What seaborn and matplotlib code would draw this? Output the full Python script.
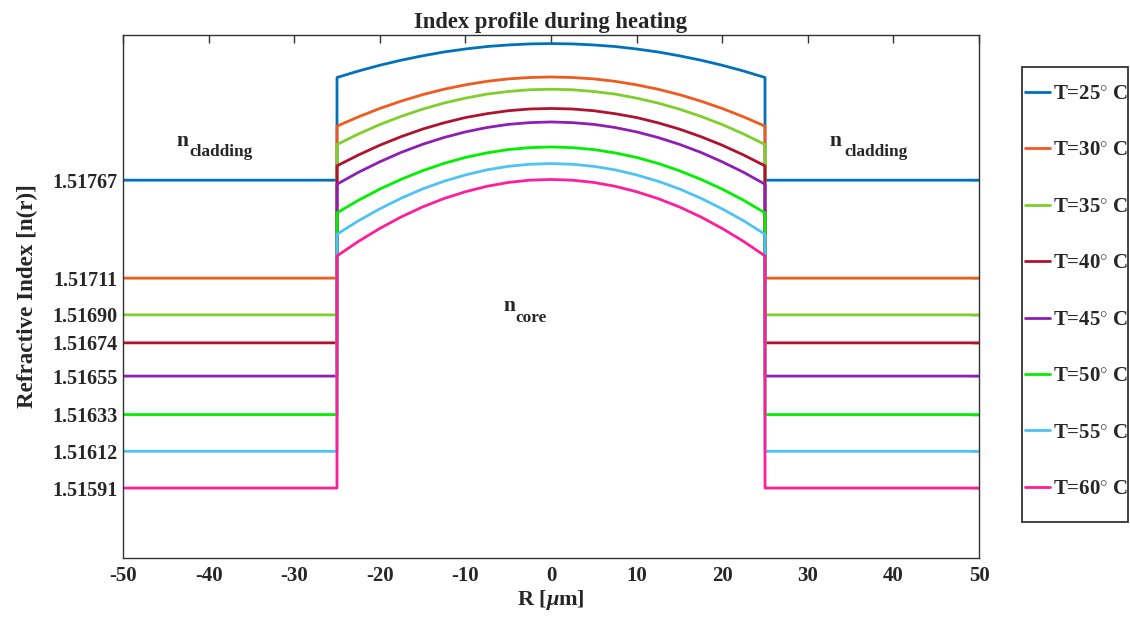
import numpy as np
import pandas as pd
import matplotlib
matplotlib.use("Agg")
import matplotlib.pyplot as plt
from matplotlib.patches import Rectangle
import seaborn as sns

# ---------------- data ----------------
temps = [25, 30, 35, 40, 45, 50, 55, 60]
cladding = [1.51767, 1.51711, 1.51690, 1.51674, 1.51655, 1.51633, 1.51612, 1.51591]
r_core = [-25, -22.5, -20, -17.5, -15, -12.5, -10, -7.5, -5, -2.5, 0,
          2.5, 5, 7.5, 10, 12.5, 15, 17.5, 20, 22.5, 25]
core_25 = [1.518257, 1.518294, 1.518327, 1.518356, 1.518381, 1.518403, 1.518420, 1.518434, 1.518443, 1.518449, 1.518451,
           1.518449, 1.518443, 1.518434, 1.518420, 1.518403, 1.518381, 1.518356, 1.518327, 1.518294, 1.518257]
core_30 = [1.517979, 1.518032, 1.518080, 1.518122, 1.518159, 1.518190, 1.518215, 1.518235, 1.518249, 1.518257, 1.518260,
           1.518257, 1.518249, 1.518235, 1.518215, 1.518190, 1.518159, 1.518122, 1.518080, 1.518032, 1.517979]
core_35 = [1.517874, 1.517934, 1.517988, 1.518035, 1.518076, 1.518111, 1.518139, 1.518162, 1.518177, 1.518187, 1.518190,
           1.518187, 1.518177, 1.518162, 1.518139, 1.518111, 1.518076, 1.518035, 1.517988, 1.517934, 1.517874]
core_40 = [1.517752, 1.517814, 1.517870, 1.517919, 1.517962, 1.517998, 1.518028, 1.518050, 1.518067, 1.518077, 1.518080,
           1.518077, 1.518067, 1.518050, 1.518028, 1.517998, 1.517962, 1.517919, 1.517870, 1.517814, 1.517752]
core_45 = [1.517647, 1.517715, 1.517775, 1.517829, 1.517875, 1.517914, 1.517946, 1.517971, 1.517989, 1.517999, 1.518003,
           1.517999, 1.517989, 1.517971, 1.517946, 1.517914, 1.517875, 1.517829, 1.517775, 1.517715, 1.517647]
core_50 = [1.517483, 1.517555, 1.517619, 1.517675, 1.517724, 1.517766, 1.517800, 1.517826, 1.517845, 1.517856, 1.517860,
           1.517856, 1.517845, 1.517826, 1.517800, 1.517766, 1.517724, 1.517675, 1.517619, 1.517555, 1.517483]
core_55 = [1.517361, 1.517438, 1.517506, 1.517567, 1.517620, 1.517664, 1.517700, 1.517729, 1.517749, 1.517761, 1.517765,
           1.517761, 1.517749, 1.517729, 1.517700, 1.517664, 1.517620, 1.517567, 1.517506, 1.517438, 1.517361]
core_60 = [1.517237, 1.517320, 1.517394, 1.517460, 1.517517, 1.517565, 1.517604, 1.517635, 1.517657, 1.517670, 1.517674,
           1.517670, 1.517657, 1.517635, 1.517604, 1.517565, 1.517517, 1.517460, 1.517394, 1.517320, 1.517237]
cores = [core_25, core_30, core_35, core_40, core_45, core_50, core_55, core_60]
r_edges = [-50, 50]
x_ticks = [-50, -40, -30, -20, -10, 0, 10, 20, 30, 40, 50]
labels = [f"T={t}$^{{\\circ}}$ C" for t in temps]
colors = ["#0072BD", "#F05A1E", "#7ECF2A", "#B0122E", "#8E1EB4", "#00F000", "#4DC3F5", "#FF1D9A"]

# ---------------- build long table ----------------
rows = []
for lab, clad, core in zip(labels, cladding, cores):
    xs = [r_edges[0], r_core[0]] + r_core + [r_core[-1], r_edges[1]]
    ys = [clad, clad] + core + [clad, clad]
    for i, (x, y) in enumerate(zip(xs, ys)):
        rows.append({"R": x, "n": y, "T": lab, "order": i})
df = pd.DataFrame(rows)

# ---------------- style ----------------
sns.set_theme(style="white")
plt.rcParams["font.family"] = ["Liberation Serif", "DejaVu Serif"]
plt.rcParams["font.weight"] = "bold"
plt.rcParams["mathtext.fontset"] = "custom"
plt.rcParams["mathtext.rm"] = "Liberation Serif:bold"
plt.rcParams["mathtext.bf"] = "Liberation Serif:bold"
plt.rcParams["mathtext.it"] = "Liberation Serif:italic"
plt.rcParams["lines.solid_joinstyle"] = "round"

fig = plt.figure(figsize=(11.3, 6.17), dpi=100)
ax = fig.add_axes([123 / 1130, 1 - 558 / 617, (979 - 123) / 1130, (558 - 35) / 617])

sns.lineplot(data=df, x="R", y="n", hue="T", hue_order=labels, palette=colors,
             sort=False, estimator=None, units="T", linewidth=2.0, ax=ax, legend=True)

ax.set_xlim(-50, 50)
ax.set_ylim(1.51551, 1.51850)
ax.set_xticks(x_ticks)
ax.set_xticklabels([str(v) for v in x_ticks], fontsize=15, fontweight="bold")
ax.set_yticks(cladding)
ax.set_yticklabels([f"{v:.5f}" for v in cladding], fontsize=14.5, fontweight="bold")
ax.tick_params(axis="x", direction="in", length=6, width=1, top=True, color="#333333", pad=6)
ax.tick_params(axis="y", direction="in", length=6, width=1, right=True, color="#333333", pad=4)
for s in ax.spines.values():
    s.set_color("#333333")
    s.set_linewidth(1.0)

ax.set_title("Index profile during heating", fontsize=16.3, fontweight="bold", pad=5)
ax.set_xlabel(r"R [$\mathit{\mu}$m]", fontsize=16, fontweight="bold", labelpad=1)
ax.set_ylabel("Refractive Index [n(r)]", fontsize=16.6, fontweight="bold", labelpad=10)

# n labels (main letter + subscript)
ax.text(-43.8, 1.517864, "n", fontsize=15.5, fontweight="bold", va="baseline")
ax.text(-42.3, 1.517807, "cladding", fontsize=12.4, fontweight="bold", va="baseline")
ax.text(32.5, 1.517864, "n", fontsize=15.5, fontweight="bold", va="baseline")
ax.text(34.3, 1.517807, "cladding", fontsize=12.4, fontweight="bold", va="baseline")
ax.text(-5.6, 1.516921, "n", fontsize=15.5, fontweight="bold", va="baseline")
ax.text(-4.2, 1.516859, "core", fontsize=12.4, fontweight="bold", va="baseline")

handles, labs = ax.get_legend_handles_labels()
ax.get_legend().remove()
leg = fig.legend(handles, labs, loc="upper left", bbox_to_anchor=(1025 / 1130, 1 - 84 / 617),
                 frameon=False, prop={"size": 15, "weight": "bold"},
                 handlelength=1.2, handletextpad=0.15, labelspacing=1.75, borderpad=0,
                 borderaxespad=0)
fig.patches.append(Rectangle((1022 / 1130, 1 - 522 / 617), 106 / 1130, (522 - 67) / 617,
                             transform=fig.transFigure, fill=False, edgecolor="#333333",
                             linewidth=1.3, figure=fig))

fig.savefig("out.png", dpi=100)
